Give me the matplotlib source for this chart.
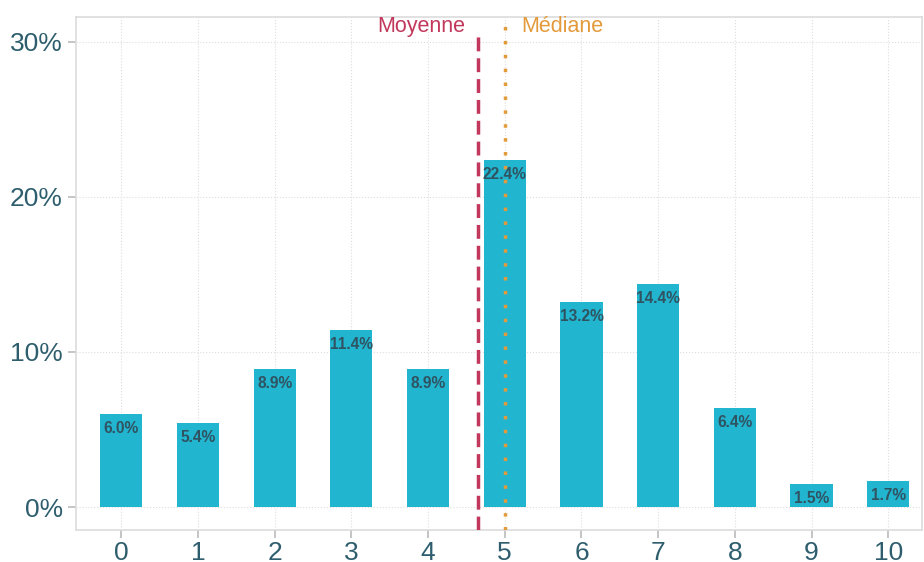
import matplotlib.pyplot as plt
from matplotlib.ticker import FuncFormatter

notes = [0, 1, 2, 3, 4, 5, 6, 7, 8, 9, 10]
parts = [6.0, 5.4, 8.9, 11.4, 8.9, 22.4, 13.2, 14.4, 6.4, 1.5, 1.7]
moyenne = 4.65
mediane = 5

plt.rcParams['font.family'] = ['Liberation Sans', 'DejaVu Sans']

fig = plt.figure(figsize=(9.24, 5.62), dpi=100)
ax = fig.add_axes([76 / 924, 32 / 562, 846 / 924, 513 / 562])

ax.bar(notes, parts, width=0.55, color='#22b5d0', zorder=2)
for x, v in zip(notes, parts):
    ax.text(x, v - 0.45, f'{v:.1f}%', ha='center', va='top', fontsize=11.2,
            fontweight='bold', color='#2f5361', zorder=4)

ax.axvline(moyenne, color='#c2385c', linestyle=(0, (4, 2)), linewidth=2.5, ymax=0.97, zorder=3)
ax.axvline(mediane, color='#e39a3b', linestyle=(0, (1, 3)), linewidth=2.5, ymax=0.985, zorder=3)
ax.text(moyenne - 0.17, 31.0, 'Moyenne', ha='right', va='center', fontsize=15.5, color='#c2385c')
ax.text(mediane + 0.22, 31.0, 'Médiane', ha='left', va='center', fontsize=15.5, color='#e39a3b')

ax.set_xlim(-0.59, 10.44)
ax.set_ylim(-1.48, 31.6)
ax.set_xticks(notes)
ax.set_yticks([0, 10, 20, 30])
ax.yaxis.set_major_formatter(FuncFormatter(lambda v, p: f'{v:.0f}%'))
ax.tick_params(colors='#bbbbbb', labelcolor='#2e5e6e', labelsize=19, length=6, width=1.2)
ax.tick_params(axis='x', pad=2)
ax.grid(True, color='#dddddd', linestyle=':', linewidth=0.8, zorder=0)
for s in ax.spines.values():
    s.set_color('#dcdcdc')
    s.set_linewidth(1.2)

fig.savefig('out.png', dpi=100)
